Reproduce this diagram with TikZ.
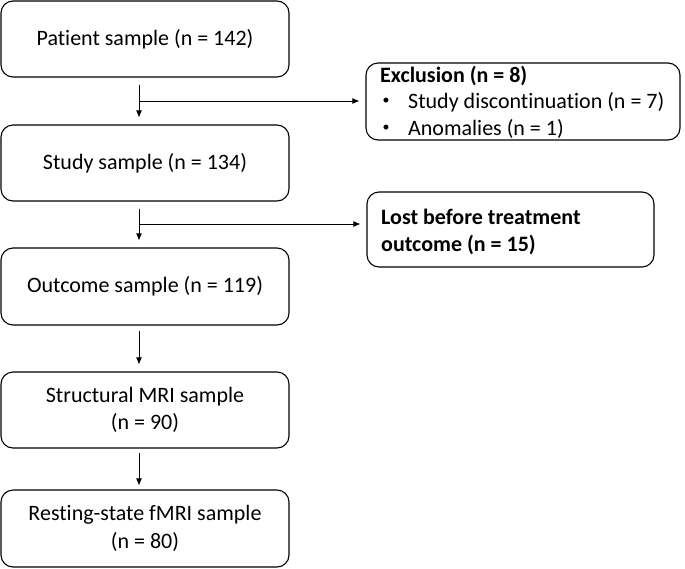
\documentclass[tikz,border=0pt]{standalone}
\usepackage{fontspec}
\setmainfont{Carlito}[Ligatures={NoCommon,NoContextual,NoRare},RawFeature={-liga;-clig;-calt}]
\usetikzlibrary{arrows.meta}
\begin{document}
\begin{tikzpicture}[x=1pt,y=1pt,
  box/.style={draw, line width=1.1pt, rounded corners=12pt, inner sep=0pt, align=center,
    font=\fontsize{22}{27.5}\selectfont},
  arr/.style={line width=0.9pt, -{Latex[length=7pt,width=6pt]}},
  txt/.style={inner sep=0pt, anchor=base west, font=\fontsize{22}{27}\selectfont},
  btxt/.style={txt, font=\fontsize{22}{27}\selectfont\bfseries},
  bullet/.style={inner sep=0pt, anchor=center, font=\fontsize{14}{14}\selectfont}]
\useasboundingbox (0,0) rectangle (685,-568);
% main column
\node[box, minimum width=288pt, minimum height=76pt] (b1) at (145,-39) {Patient sample (n = 142)};
\node[box, minimum width=288pt, minimum height=76pt] (b2) at (145,-163) {Study sample (n = 134)};
\node[box, minimum width=288pt, minimum height=77pt] (b3) at (145,-286.5) {Outcome sample (n = 119)};
\node[box, minimum width=288pt, minimum height=76pt] (b4) at (145,-410) {Structural MRI sample\\(n = 90)};
\node[box, minimum width=288pt, minimum height=77pt] (b5) at (145,-528.5) {Resting-state fMRI sample\\(n = 80)};
% side boxes
\node[box, minimum width=314pt, minimum height=77pt] (ex) at (523,-101.5) {};
\node[box, minimum width=287pt, minimum height=75pt] (lo) at (510.5,-229.5) {};
% side texts
\node[btxt] (ex1) at (380,-82) {Exclusion (n = 8)};
\node[bullet] (exb1) at (386,-101.5) {•};
\node[txt] (ex2) at (408,-108) {Study discontinuation (n = 7)};
\node[bullet] (exb2) at (386,-128.5) {•};
\node[txt] (ex3) at (408,-135) {Anomalies (n = 1)};
\node[btxt] (lo1) at (381,-224.5) {Lost before treatment};
\node[btxt] (lo2) at (381,-251) {outcome (n = 15)};
% connectors
\coordinate (j1) at (139,-101);
\coordinate (j2) at (139,-224);
\draw[arr] ([xshift=-6pt,yshift=-7pt]b1.south) -- ([xshift=-6pt,yshift=7pt]b2.north);
\draw[arr, shorten >=6pt] (j1) -- (j1 -| ex.west);
\draw[arr] ([xshift=-6pt,yshift=-7pt]b2.south) -- ([xshift=-6pt,yshift=7pt]b3.north);
\draw[arr, shorten >=6pt] (j2) -- (j2 -| lo.west);
\draw[arr] ([xshift=-6pt,yshift=-5pt]b3.south) -- ([xshift=-6pt,yshift=7pt]b4.north);
\draw[arr] ([xshift=-6pt,yshift=-4pt]b4.south) -- ([xshift=-6pt,yshift=4pt]b5.north);
\end{tikzpicture}
\end{document}
